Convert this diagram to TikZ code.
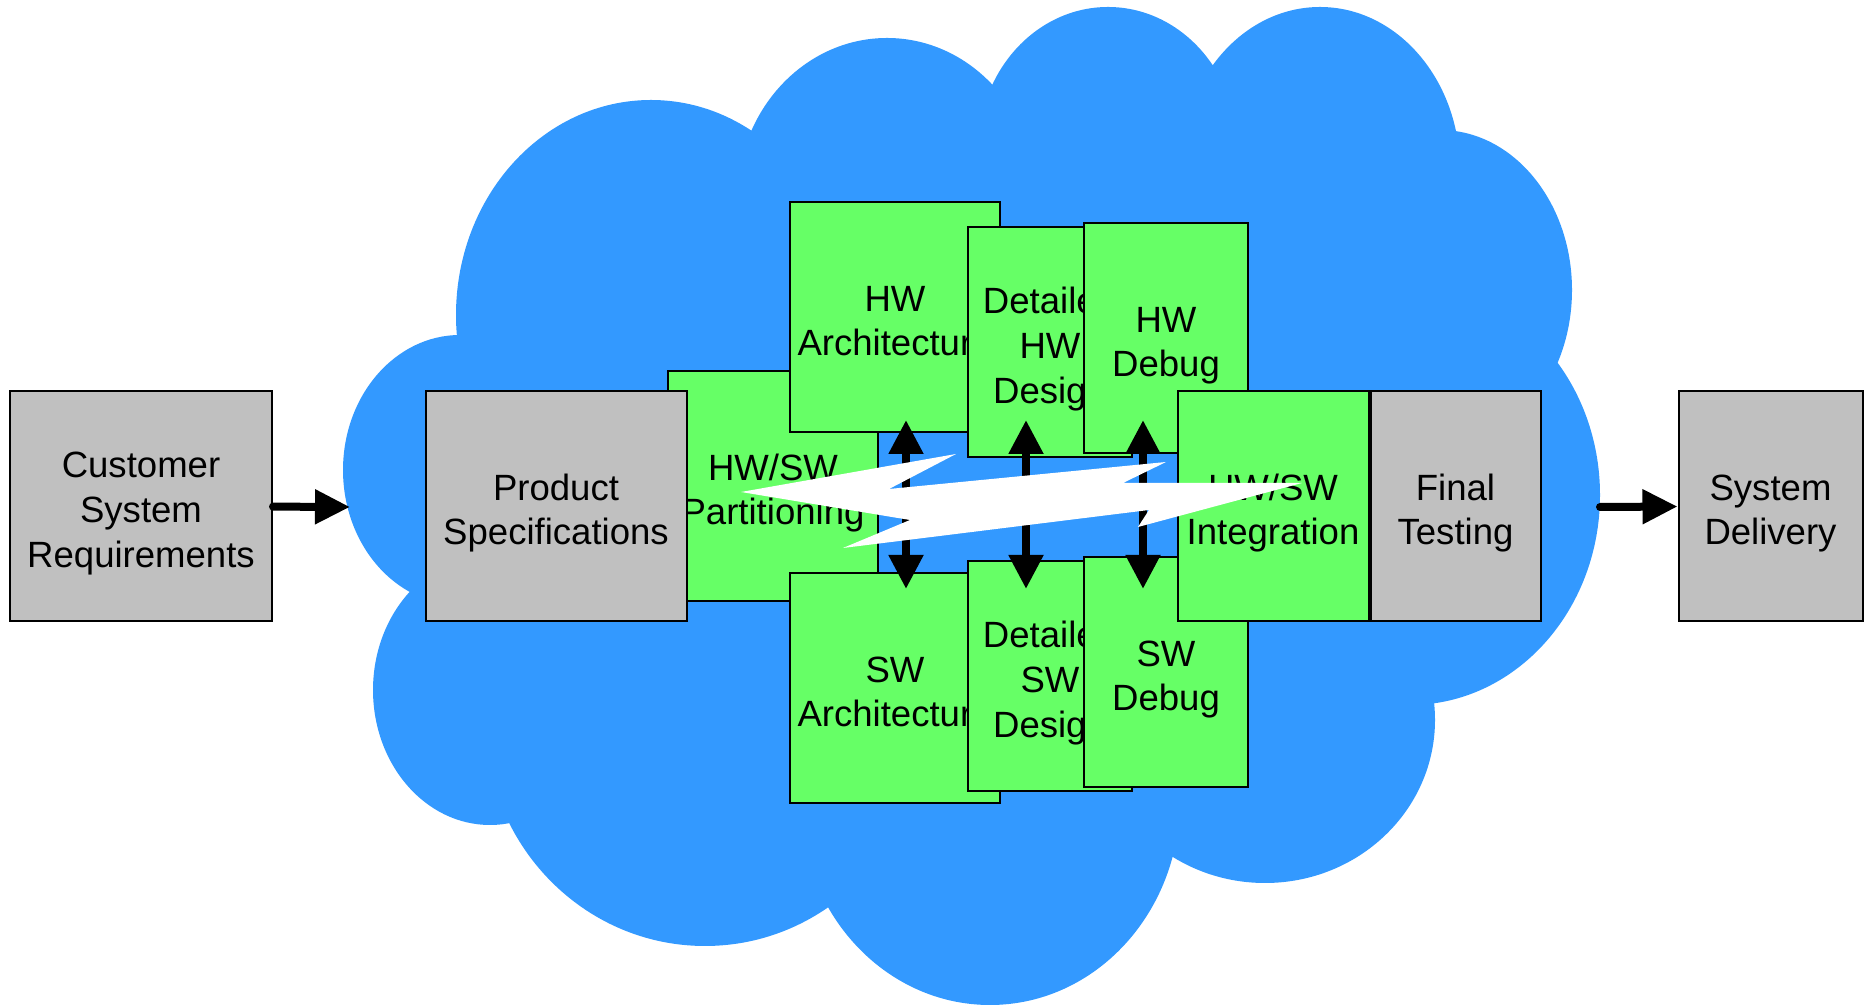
\documentclass[tikz,border=0pt]{standalone}
\usepackage{fontspec}
\setmainfont{Liberation Sans}
\usetikzlibrary{shapes,arrows.meta,positioning,calc}
\definecolor{cloudblue}{RGB}{51,153,255}
\definecolor{taskgreen}{RGB}{102,255,102}
\definecolor{boxgray}{RGB}{192,192,192}
\tikzstyle{block} = [rectangle, draw, line width=0.2mm, fill=boxgray, align=center, inner sep=0pt, minimum height=23mm, text height=7.8mm, text depth=0pt, font=\fontsize{10.4}{12.8}\selectfont]
\tikzstyle{task} = [block, fill=taskgreen]
\tikzstyle{threeline} = [text height=12.3mm]
\tikzstyle{line} = [draw, line width=0.8mm, line cap=round, -{Triangle[length=3.5mm,width=3.3mm]}]
\tikzstyle{dline} = [draw, line width=0.8mm, {Triangle[length=3.4mm,width=3.3mm]}-{Triangle[length=3.4mm,width=3.3mm]}]

\begin{document}
\begin{tikzpicture}[x=0.1mm, y=-0.1mm]
    \useasboundingbox (0,0) rectangle (1866,1005);
    % Cloud
    \fill [cloudblue] (651,315) ellipse [x radius=195, y radius=215]
        (887,200) ellipse [x radius=150, y radius=162]
        (1108,150) ellipse [x radius=130, y radius=143]
        (1320,170) ellipse [x radius=140, y radius=163]
        (1440,290) ellipse [x radius=132, y radius=160]
        (1410,495) ellipse [x radius=190, y radius=210]
        (1265,720) ellipse [x radius=170, y radius=163]
        (990,800) ellipse [x radius=190, y radius=205]
        (705,720) ellipse [x radius=220, y radius=226]
        (490,690) ellipse [x radius=117, y radius=135]
        (460,470) ellipse [x radius=117, y radius=135];
    \fill [cloudblue] (651,315) -- (887,200) -- (1108,150) -- (1320,170) -- (1440,290) -- (1410,495)
        -- (1265,720) -- (990,800) -- (705,720) -- (490,690) -- (460,470) -- cycle;
    \coordinate (cloudin) at (350,507);
    \coordinate (cloudout) at (1600,507);

    % Place nodes
    \node [block, threeline, minimum width=26.2mm] (customer) at (141,506) {Customer\\System\\Requirements};
    \node [task, minimum width=21mm] (part) at (773,486) {HW/SW\\Partitioning};
    \node [block, minimum width=26.1mm] (spec) at (556,506) {Product\\Specifications};
    \node [task, minimum width=21mm] (hwarch) at (895,317) {HW\\Architecture};
    \node [task, minimum width=21mm, below=13.9mm of hwarch] (swarch) {SW\\Architecture};
    \node [task, threeline, minimum width=16.4mm] (dhw) at (1050,342) {Detailed\\HW\\Design};
    \node [task, threeline, minimum width=16.4mm, below=10.2mm of dhw] (dsw) {Detailed\\SW\\Design};
    \node [task, minimum width=16.4mm] (hwdbg) at (1166,338) {HW\\Debug};
    \node [task, minimum width=16.4mm, below=10.2mm of hwdbg] (swdbg) {SW\\Debug};
    \node [task, minimum width=19.1mm] (integ) at (1273,506) {HW/SW\\Integration};
    \node [block, minimum width=17mm, right=0mm of integ] (final) {Final\\Testing};
    \node [block, minimum width=18.4mm, right=13.6mm of final] (delivery) {System\\Delivery};

    % Draw edges
    \path [line] (customer) -- (cloudin);
    \path [line] (cloudout) -- (delivery);
    \path [dline] ($(hwarch.south)+(11,-13)$) -- ($(swarch.north)+(11,17)$);
    \path [dline] ($(dhw.south)+(-24,-38)$) -- ($(dsw.north)+(-24,29)$);
    \path [dline] ($(hwdbg.south)+(-23,-34)$) -- ($(swdbg.north)+(-23,33)$);

    % Lightning bolt
    \fill [white] (741,492) -- (956,454) -- (889,489) -- (1166,462) -- (1123,483) -- (1302,483)
        -- (1138,527) -- (1149,510) -- (843,548) -- (910,520) -- cycle;
\end{tikzpicture}
\end{document}
